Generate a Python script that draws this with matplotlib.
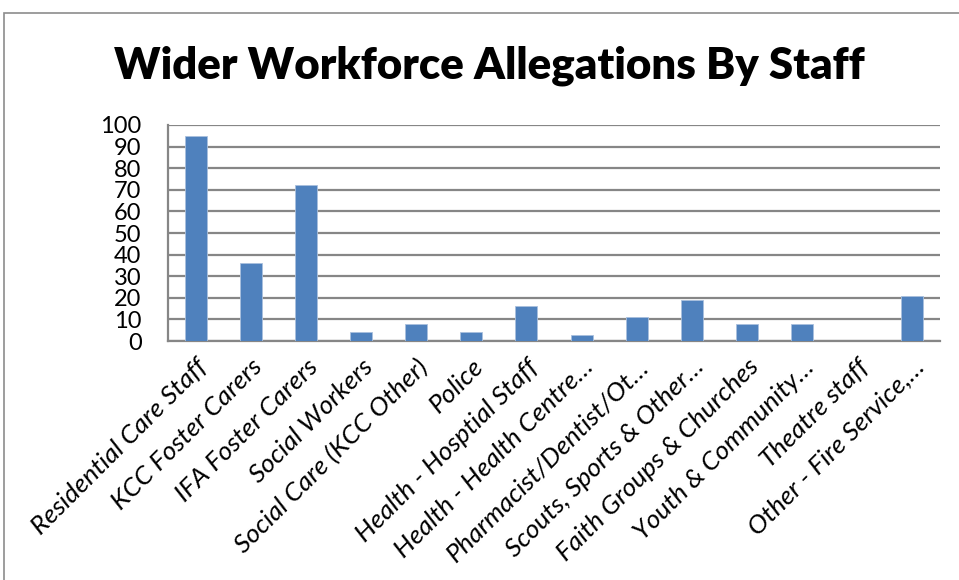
import matplotlib
matplotlib.use("Agg")
from matplotlib import pyplot as plt
from matplotlib.patches import Rectangle
import numpy as np

plt.rcParams["font.family"] = ["Lato", "DejaVu Sans"]

CATEGORIES = [
    "Residential Care Staff",
    "KCC Foster Carers",
    "IFA Foster Carers",
    "Social Workers",
    "Social Care (KCC Other)",
    "Police",
    "Health - Hosptial Staff",
    "Health - Health Centre…",
    "Pharmacist/Dentist/Ot…",
    "Scouts, Sports & Other…",
    "Faith Groups & Churches",
    "Youth & Community…",
    "Theatre staff",
    "Other - Fire Service,…",
]
ALLEGATIONS = [95, 36, 72, 4, 8, 4, 16, 3, 11, 19, 8, 8, 0, 21]
Y_TICKS = list(range(0, 101, 10))

BAR_COLOR = "#4F81BD"
GRID_COLOR = "#868686"

fig = plt.figure(figsize=(9.59, 5.80), dpi=100)

# chart area frame
fig.patches.append(Rectangle((4 / 959, -0.05), 1.2, 1 - 13 / 580 + 0.05,
                             transform=fig.transFigure, fill=False,
                             edgecolor="#8c8c8c", linewidth=1.2))

ax = fig.add_axes([168 / 959, 1 - 341 / 580, (940 - 168) / 959, (341 - 125) / 580])

x = np.arange(len(CATEGORIES))
ax.bar(x, ALLEGATIONS, width=0.4, color=BAR_COLOR, edgecolor="#a9c0de",
       linewidth=0.6, zorder=3)

ax.set_xlim(-0.5, len(CATEGORIES) - 0.5)
ax.set_ylim(0, 100)
ax.set_yticks(Y_TICKS)
ax.set_yticklabels([str(t) for t in Y_TICKS], fontsize=17)
ax.tick_params(axis="y", length=0, pad=19)
ax.yaxis.grid(True, color=GRID_COLOR, linewidth=1.6, zorder=0)

ax.set_xticks(x)
ax.set_xticklabels(CATEGORIES, rotation=45, ha="right", va="top",
                   rotation_mode="anchor", fontsize=19, style="italic")
ax.tick_params(axis="x", length=0, pad=10)

for side in ["top", "right"]:
    ax.spines[side].set_visible(False)
ax.spines["left"].set_color(GRID_COLOR)
ax.spines["left"].set_linewidth(1.6)
ax.spines["bottom"].set_color(GRID_COLOR)
ax.spines["bottom"].set_linewidth(1.6)

fig.text(489 / 959, 1 - 66 / 580, "Wider Workforce Allegations By Staff",
         ha="center", va="center", fontsize=31.5, fontweight="heavy")

plt.savefig("out.png", dpi=100)
